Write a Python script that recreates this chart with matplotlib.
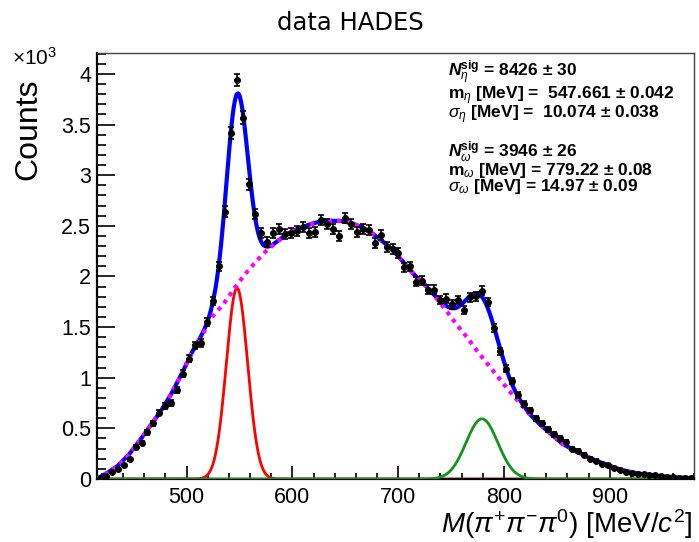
import numpy as np
import matplotlib
matplotlib.use("Agg")
import matplotlib.pyplot as plt
from matplotlib.ticker import MultipleLocator, FuncFormatter

plt.rcParams["font.family"] = ["Liberation Sans", "DejaVu Sans"]
plt.rcParams["mathtext.fontset"] = "custom"
plt.rcParams["mathtext.rm"] = "Liberation Sans"
plt.rcParams["mathtext.it"] = "Liberation Sans:italic"
plt.rcParams["mathtext.bf"] = "Liberation Sans:bold"
plt.rcParams["mathtext.sf"] = "Liberation Sans:bold:italic"  # used for the bold italic N

# histogram, 100 bins from 415 to 980 MeV, counts in units of 10^3
x_lo, x_hi, n_bins = 415.0, 980.0, 100
counts = [
    0.01, 0.03, 0.07, 0.10, 0.14, 0.195, 0.32, 0.36, 0.46, 0.55,
    0.655, 0.72, 0.75, 0.88, 1.04, 1.19, 1.32, 1.345, 1.55, 1.76,
    2.10, 2.64, 3.42, 3.94, 3.57, 2.91, 2.62, 2.43, 2.34, 2.43,
    2.47, 2.42, 2.43, 2.45, 2.49, 2.43, 2.44, 2.56, 2.52, 2.47,
    2.40, 2.58, 2.52, 2.44, 2.47, 2.46, 2.33, 2.41, 2.29, 2.27,
    2.23, 2.09, 2.10, 1.95, 1.96, 1.87, 1.87, 1.77, 1.78, 1.725,
    1.77, 1.67, 1.795, 1.805, 1.86, 1.75, 1.49, 1.26, 1.09, 0.97,
    0.83, 0.74, 0.68, 0.60, 0.55, 0.49, 0.44, 0.40, 0.37, 0.30,
    0.28, 0.24, 0.20, 0.18, 0.15, 0.135, 0.105, 0.09, 0.072, 0.062,
    0.05, 0.05, 0.04, 0.042, 0.03, 0.023, 0.017, 0.013, 0.013, 0.01,
]

# background curve (dotted magenta)
bg_mass = [415, 425, 435, 445, 455, 465, 475, 485, 495, 505,
           515, 525, 535, 545, 555, 565, 575, 585, 595, 605,
           615, 625, 635, 645, 655, 665, 675, 685, 695, 705,
           715, 725, 735, 745, 755, 765, 775, 785, 795, 805,
           815, 825, 835, 845, 855, 865, 875, 885, 895, 905,
           915, 925, 935, 945, 955, 965, 975, 980]
bg_counts = [0.0, 0.06, 0.13, 0.235, 0.37, 0.515, 0.66, 0.83, 1.03, 1.25,
             1.43, 1.61, 1.73, 1.88, 2.02, 2.14, 2.25, 2.34, 2.42, 2.47,
             2.51, 2.54, 2.55, 2.55, 2.53, 2.49, 2.43, 2.35, 2.26, 2.14,
             2.02, 1.92, 1.80, 1.67, 1.53, 1.40, 1.26, 1.13, 1.00, 0.87,
             0.75, 0.63, 0.53, 0.44, 0.35, 0.29, 0.24, 0.19, 0.15, 0.11,
             0.08, 0.056, 0.042, 0.03, 0.022, 0.015, 0.01, 0.008]

# fit results from the box
eta_n, eta_m, eta_s = 8426, 547.661, 10.074
omega_n, omega_m, omega_s = 3946, 779.22, 14.97

eta_lines = [
    r"$\mathsf{N}^{\mathbf{sig}}_{\eta}$ = 8426 ± 30",
    r"m$_{\eta}$ [MeV] =  547.661 ± 0.042",
    r"$\sigma_{\eta}$ [MeV] =  10.074 ± 0.038",
]
omega_lines = [
    r"$\mathsf{N}^{\mathbf{sig}}_{\omega}$ = 3946 ± 26",
    r"m$_{\omega}$ [MeV] = 779.22 ± 0.08",
    r"$\sigma_{\omega}$ [MeV] = 14.97 ± 0.09",
]

counts = np.array(counts)
width = (x_hi - x_lo) / n_bins
centers = x_lo + width * (np.arange(n_bins) + 0.5)
errors = np.sqrt(counts * 1000) / 1000


def gauss(x, n, m, s):
    amp = n * width / (np.sqrt(2 * np.pi) * s) / 1000
    return amp * np.exp(-0.5 * ((x - m) / s) ** 2)


xf = np.linspace(x_lo, x_hi, 1131)
eta_curve = gauss(xf, eta_n, eta_m, eta_s)
omega_curve = gauss(xf, omega_n, omega_m, omega_s)
total_curve = np.interp(xf, bg_mass, bg_counts) + eta_curve + omega_curve

W, H = 699, 542
fig = plt.figure(figsize=(W / 100, H / 100), dpi=100)
L, R, T, B = 96.7, 694.3, 52.7, 479
ax = fig.add_axes([L / W, 1 - B / H, (R - L) / W, (B - T) / H])

ax.plot(xf, eta_curve, color="#ff0000", lw=2, zorder=2)
ax.plot(xf, omega_curve, color="#12941a", lw=2, zorder=3)
ax.plot(xf, total_curve, color="#0000ff", lw=3, zorder=4)
ax.plot(bg_mass, bg_counts, color="#ff00ff", lw=3, ls=(0, (1, 1.2)), zorder=5)

ax.errorbar(centers, counts, xerr=width / 2, fmt="none", ecolor="k",
            elinewidth=1.2, capsize=0, zorder=6)
ax.errorbar(centers, counts, yerr=errors, fmt="o", color="k", ms=4,
            elinewidth=1.2, capsize=2, capthick=1.2, zorder=7)

ax.set_xlim(x_lo, x_hi)
ax.set_ylim(0, 4.21)

ax.xaxis.set_major_locator(MultipleLocator(100))
ax.xaxis.set_minor_locator(MultipleLocator(20))
ax.yaxis.set_major_locator(MultipleLocator(0.5))
ax.yaxis.set_minor_locator(MultipleLocator(0.1))
ax.yaxis.set_major_formatter(FuncFormatter(lambda v, p: "%g" % v))

ax.tick_params(axis="both", which="both", direction="in", labelsize=15.5,
               width=1.2, top=False, right=False)
ax.tick_params(axis="x", which="major", length=9.2, pad=6)
ax.tick_params(axis="x", which="minor", length=4.6)
ax.tick_params(axis="y", which="major", length=13, pad=4)
ax.tick_params(axis="y", which="minor", length=6.5)

for side in ["left", "bottom"]:
    ax.spines[side].set_linewidth(1.6)
for side in ["top", "right"]:
    ax.spines[side].set_linewidth(1)
    ax.spines[side].set_color("#444444")

fig.text(350 / W, 1 - 30 / H, "data HADES", ha="center", va="baseline",
         fontsize=17.5, family="DejaVu Sans")
fig.text(12 / W, 1 - 65 / H, r"×10$^{3}$", ha="left", va="baseline",
         fontsize=15)
fig.text(28 / W, 1 - 79 / H, "Counts", rotation=90, ha="center", va="top",
         fontsize=23)
fig.text(692 / W, 1 - 533 / H, r"$M(\pi^{+}\pi^{-}\pi^{0})$ [MeV/$c^{2}$]",
         ha="right", va="baseline", fontsize=20)

# the two fit blocks, each as one multi-line text
fig.text(448 / W, 1 - 59 / H, "\n".join(eta_lines), ha="left", va="top",
         fontsize=12.5, fontweight="bold", linespacing=0.78)
fig.text(448 / W, 1 - 139 / H, "\n".join(omega_lines), ha="left", va="top",
         fontsize=12.5, fontweight="bold", linespacing=0.78)

fig.savefig("out.png", dpi=100)
